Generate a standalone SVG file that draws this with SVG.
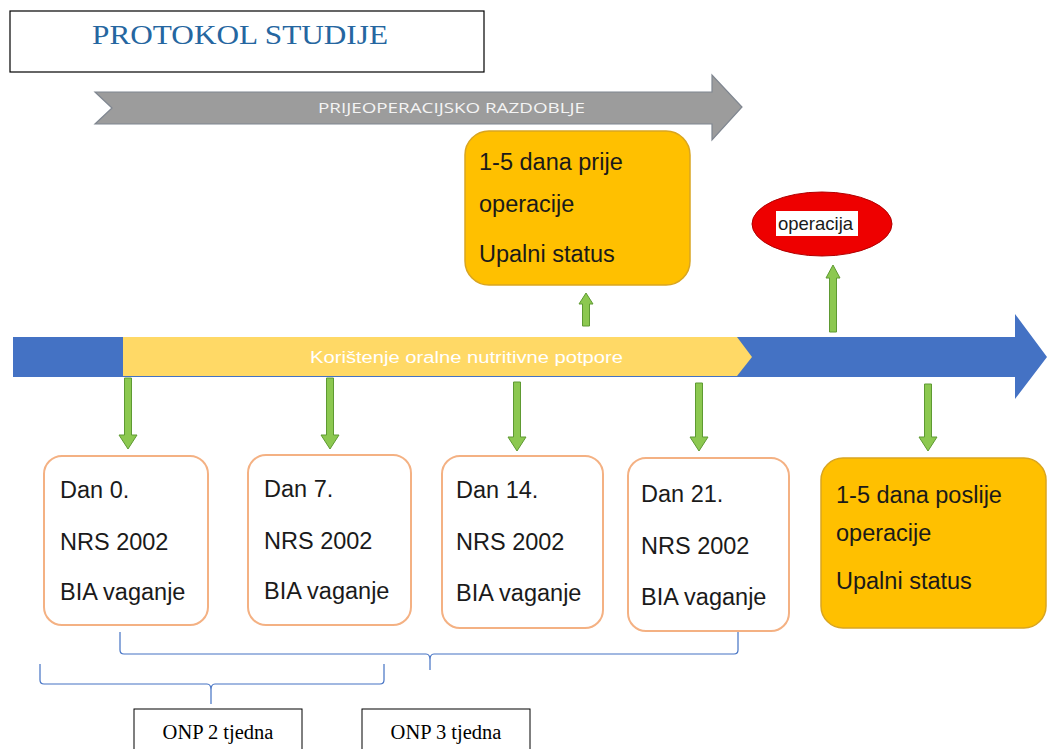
<svg xmlns="http://www.w3.org/2000/svg" width="1047" height="749" viewBox="0 0 1047 749">
<style>
.cal{font-family:"Liberation Sans","Open Sans",sans-serif;fill:#1a1a1a;font-size:23.5px}
.box{fill:#fff;stroke:#F4B183;stroke-width:2}
.ora{fill:#FFC000;stroke:#D9A520;stroke-width:1.5}
.garr{fill:#8CC850;stroke:#5E9A32;stroke-width:1}
.brace{fill:none;stroke:#4472C4;stroke-width:1.2}
.onp{fill:#fff;stroke:#000;stroke-width:1}
.tnr{font-family:"Liberation Serif",serif;font-size:20.5px;fill:#000}
</style>
<rect width="1047" height="749" fill="#fff"/>
<g id="title">
<rect x="10" y="11" width="474" height="61" fill="#fff" stroke="#000" stroke-width="1.2"/>
<text x="92" y="44" font-family="Liberation Serif,serif" font-size="28" fill="#2566A0" textLength="296" lengthAdjust="spacingAndGlyphs">PROTOKOL STUDIJE</text>
</g>
<g id="preop">
<polygon points="95,92 712,92 712,75 742,107 712,140 712,124 95,124 112,108" fill="#9C9C9C" stroke="#7F8690" stroke-width="1.2"/>
<text x="318" y="113" font-family="Open Sans,Liberation Sans,sans-serif" font-size="14" fill="#F4F4F4" textLength="267" lengthAdjust="spacingAndGlyphs">PRIJEOPERACIJSKO RAZDOBLJE</text>
</g>
<g id="timeline">
<polygon points="13,337 1015,337 1015,314 1047,357 1015,399 1015,377 13,377" fill="#4472C4"/>
</g>
<g id="onp-bar">
<polygon points="123,337 737,337 752,357 737,376 123,376" fill="#FFD966"/>
<text x="310" y="363" font-family="Liberation Sans,sans-serif" font-size="16" fill="#fff" textLength="313" lengthAdjust="spacingAndGlyphs">Korištenje oralne nutritivne potpore</text>
</g>
<g id="pre-box">
<rect x="465" y="131" width="225" height="154" rx="24" class="ora"/>
<text class="cal" x="479" y="170">1-5 dana prije</text>
<text class="cal" x="479" y="212">operacije</text>
<text class="cal" x="479" y="262">Upalni status</text>
</g>
<g id="operacija">
<ellipse cx="822" cy="224" rx="70" ry="32" fill="#EE0000" stroke="#B00000" stroke-width="1"/>
<rect x="776" y="211" width="82" height="25" fill="#fff"/>
<text x="778" y="230" font-family="Liberation Sans,sans-serif" font-size="18.5" fill="#1a1a1a">operacija</text>
</g>
<g id="day0">
<rect x="44" y="456" width="164" height="169" rx="18" class="box"/>
<text class="cal" x="60" y="498">Dan 0.</text>
<text class="cal" x="60" y="550">NRS 2002</text>
<text class="cal" x="60" y="600">BIA vaganje</text>
</g>
<g id="day7">
<rect x="248" y="455" width="163" height="170" rx="18" class="box"/>
<text class="cal" x="264" y="497">Dan 7.</text>
<text class="cal" x="264" y="549">NRS 2002</text>
<text class="cal" x="264" y="599">BIA vaganje</text>
</g>
<g id="day14">
<rect x="442" y="456" width="161" height="172" rx="18" class="box"/>
<text class="cal" x="456" y="498">Dan 14.</text>
<text class="cal" x="456" y="550">NRS 2002</text>
<text class="cal" x="456" y="601">BIA vaganje</text>
</g>
<g id="day21">
<rect x="628" y="458" width="161" height="173" rx="18" class="box"/>
<text class="cal" x="641" y="502">Dan 21.</text>
<text class="cal" x="641" y="554">NRS 2002</text>
<text class="cal" x="641" y="605">BIA vaganje</text>
</g>
<g id="post-box">
<rect x="821" y="458" width="225" height="170" rx="22" class="ora"/>
<text class="cal" x="836" y="503">1-5 dana poslije</text>
<text class="cal" x="836" y="541">operacije</text>
<text class="cal" x="836" y="589">Upalni status</text>
</g>
<g id="onp2">
<rect x="134" y="709" width="168" height="45" class="onp"/>
<text class="tnr" x="218" y="739" text-anchor="middle">ONP 2 tjedna</text>
</g>
<g id="onp3">
<rect x="362" y="709" width="168" height="45" class="onp"/>
<text class="tnr" x="446" y="739" text-anchor="middle">ONP 3 tjedna</text>
</g>
<g id="connectors">
<polygon class="garr" points="582.5,326 589.5,326 589.5,304 593,304 586,293 579,304 582.5,304"/>
<polygon class="garr" points="829.5,332 836.5,332 836.5,278 840,278 833,265 826,278 829.5,278"/>
<polygon class="garr" points="124.5,378 131.5,378 131.5,435 137,435 128,449 119,435 124.5,435"/>
<polygon class="garr" points="326.5,378 333.5,378 333.5,435 339,435 330,449 321,435 326.5,435"/>
<polygon class="garr" points="513.5,382 520.5,382 520.5,437 526,437 517,451 508,437 513.5,437"/>
<polygon class="garr" points="695.5,383 702.5,383 702.5,437 708,437 699,451 690,437 695.5,437"/>
<polygon class="garr" points="924.5,384 931.5,384 931.5,437 937,437 928,451 919,437 924.5,437"/>
<path class="brace" d="M120,632 L120,650 Q120,654 124,654 L426,654 Q430,654 430,660 L430,670 M430,660 Q430,654 434,654 L734,654 Q738,654 738,650 L738,632"/>
<path class="brace" d="M40,664 L40,680 Q40,684 44,684 L207,684 Q211,684 211,690 L211,704 M211,690 Q211,684 215,684 L380,684 Q384,684 384,680 L384,664"/>
</g>
</svg>
